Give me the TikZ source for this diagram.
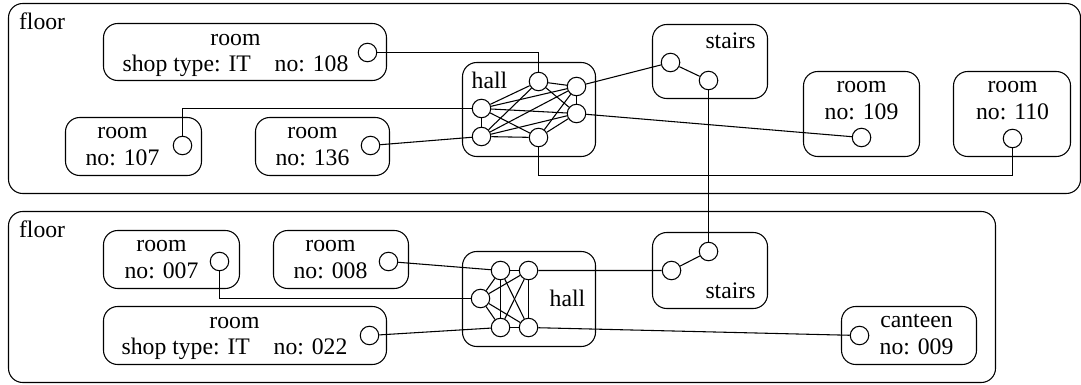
\documentclass[tikz,border=0pt]{standalone}
\usepackage{fontspec}
\setmainfont{Liberation Serif}
\usepackage{tikz}
\tikzset{every path/.style={line width=0.45pt},
         box/.style={draw,rounded corners=6pt},
         port/.style={draw,circle,inner sep=0pt,minimum size=7.8pt},
         txt/.style={font=\fontsize{10}{11.1}\selectfont,align=center,inner sep=0pt}}

\begin{document}
\begin{tikzpicture}[x=0.422pt,y=-0.422pt]
   \useasboundingbox (0,0) rectangle (1081,385);
  \begin{scope}[shift={(0.5,0.5)}]
   % upper floor
   \draw[box] (  8,  3) rectangle (1080,193);
   \draw[box] (103, 23) rectangle ( 386, 80);
   \draw[box] ( 65,117) rectangle ( 201,175);
   \draw[box] (255,117) rectangle ( 389,175);
   \draw[box] (462, 62) rectangle ( 595,156);
   \draw[box] (652, 24) rectangle ( 767, 98);
   \draw[box] (803, 71) rectangle ( 919,156);
   \draw[box] (953, 71) rectangle (1070,156);
   \node[txt,anchor=base west] (f1) at ( 18, 29) {floor};
   \node[txt] (n108) at ( 235, 55) {room\\shop type: IT\quad no: 108};
   \node[txt] (n107) at ( 122,146) {room\\no: 107};
   \node[txt] (n136) at ( 312,146) {room\\no: 136};
   \node[txt] (n109) at ( 861,100) {room\\no: 109};
   \node[txt] (n110) at (1012,100) {room\\no: 110};
   \node[txt,anchor=base] (hl1) at (489, 88) {hall};
   \node[txt,anchor=base] (st1) at (730, 48) {stairs};
   \node[port] (p108) at ( 367, 52) {};
   \node[port] (p107) at ( 182,145) {};
   \node[port] (p136) at ( 370,145) {};
   \node[port] (p109) at ( 861,137) {};
   \node[port] (p110) at (1012,138) {};
   \node[port] (h1) at (538, 81) {};
   \node[port] (h2) at (576, 86) {};
   \node[port] (h3) at (481,108) {};
   \node[port] (h4) at (576,113) {};
   \node[port] (h5) at (481,136) {};
   \node[port] (h6) at (538,137) {};
   \node[port] (s1) at (670, 62) {};
   \node[port] (s2) at (708, 80) {};
   \coordinate (c1) at (760,175);

   % lower floor
   \draw[box] (  8,211) rectangle (995,382);
   \draw[box] (103,230) rectangle (239,288);
   \draw[box] (273,230) rectangle (408,288);
   \draw[box] (103,306) rectangle (386,364);
   \draw[box] (462,251) rectangle (595,346);
   \draw[box] (652,232) rectangle (767,308);
   \draw[box] (841,306) rectangle (976,364);
   \node[txt,anchor=base west] (f2) at ( 18,237) {floor};
   \node[txt] (n007) at (161,259) {room\\no: 007};
   \node[txt] (n008) at (330,259) {room\\no: 008};
   \node[txt] (n022) at (234,338) {room\\shop type: IT\quad no: 022};
   \node[txt] (n009) at (916,334) {canteen\\no: 009};
   \node[txt,anchor=base] (hl2) at (567,306) {hall};
   \node[txt,anchor=base] (st2) at (730,298) {stairs};
   \node[port] (p007) at (219,261) {};
   \node[port] (p008) at (388,261) {};
   \node[port] (p022) at (369,335) {};
   \node[port] (p009) at (859,335) {};
   \node[port] (g1) at (500,270) {};
   \node[port] (g2) at (528,270) {};
   \node[port] (g3) at (480,298) {};
   \node[port] (g4) at (500,327) {};
   \node[port] (g5) at (528,327) {};
   \node[port] (t1) at (671,270) {};
   \node[port] (t2) at (708,251) {};

   % halls
   \foreach \u/\v in {h1/h2,h1/h3,h1/h4,h1/h5,h2/h3,h2/h4,h2/h5,h2/h6,
                      h3/h4,h3/h5,h3/h6,h4/h5,h4/h6,h5/h6}
      \draw (\u) -- (\v);
   \foreach \u/\v in {g1/g2,g1/g3,g1/g4,g1/g5,g2/g3,g2/g4,g2/g5,
                      g3/g4,g3/g5,g4/g5}
      \draw (\u) -- (\v);

   % corridors
   \draw (p108) -| (h1);
   \draw (p107) |- (h3);
   \draw (p136) -- (h5);
   \draw (h2) -- (s1) -- (s2);
   \draw (h4) -- (p109);
   \draw (h6) |- (c1) -| (p110);
   \draw (s2) -- (t2);
   \draw (p008) -- (g1);
   \draw (p007) |- (g3);
   \draw (p022) -- (g4);
   \draw (g2) -- (t1) -- (t2);
   \draw (g5) -- (p009);
  \end{scope}
\end{tikzpicture}
\end{document}
